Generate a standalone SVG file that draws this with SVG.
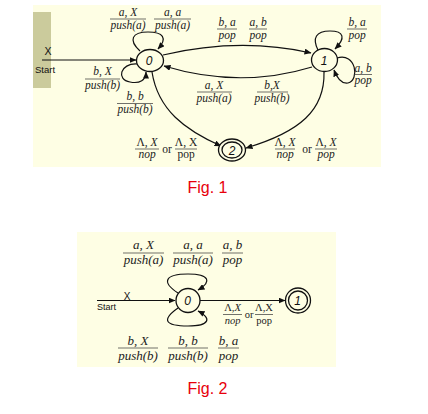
<svg xmlns="http://www.w3.org/2000/svg" width="428" height="414" viewBox="0 0 428 414">
<style>
.bg{fill:#FEFEE4}
.bar{fill:#CBCB9C}
.node{fill:#FEFEE4;stroke:#111;stroke-width:1.3}
.edge{fill:none;stroke:#111;stroke-width:1.2}
.fl{stroke:#333;stroke-width:0.7}
.lb{font-family:"Liberation Serif",serif;font-style:italic;font-size:11.5px;fill:#222;text-anchor:middle}
.lb2{font-family:"Liberation Serif",serif;font-style:italic;font-size:13px;fill:#222;text-anchor:middle}
.lb3{font-family:"Liberation Serif",serif;font-style:italic;font-size:10.5px;fill:#222;text-anchor:middle}
.up{font-style:normal}
.nl{font-family:"Liberation Sans",Arial,sans-serif;font-style:italic;font-size:12px;fill:#111;text-anchor:middle}
.sans{font-family:"Liberation Sans",Arial,sans-serif;fill:#111}
.cap{font-family:"Liberation Sans",Arial,sans-serif;font-size:16px;fill:#E8000B;text-anchor:middle}
</style>
<defs>
<marker id="ah" markerWidth="7" markerHeight="6" refX="6.5" refY="3" orient="auto" markerUnits="userSpaceOnUse">
<path d="M0,0 L7,3 L0,6 Z" fill="#111"/>
</marker>
</defs>

<!-- Figure 1 background -->
<rect class="bg" x="33" y="5" width="348" height="162"/>
<rect class="bar" x="33" y="12" width="18" height="76"/>

<g id="connectors1">
<line class="edge" x1="42" y1="60" x2="136" y2="60" marker-end="url(#ah)"/>
<path class="edge" d="M163,55 Q240,37 311,53" marker-end="url(#ah)"/>
<path class="edge" d="M312,67 Q240,89 164,66" marker-end="url(#ah)"/>
<path class="edge" d="M152,72 C158,110 185,130 221,146" marker-end="url(#ah)"/>
<path class="edge" d="M324,72 C325,110 300,132 246,148" marker-end="url(#ah)"/>
<path class="edge" d="M140,51 C128,40 132,32 148,32 C163,32 168,38 158,49" marker-end="url(#ah)"/>
<path class="edge" d="M137,64 C120,63 116,80 130,82 C140,84 146,80 146,72" marker-end="url(#ah)"/>
<path class="edge" d="M318,50 C312,38 316,31 330,31 C344,31 346,38 335,49" marker-end="url(#ah)"/>
<path class="edge" d="M337,58 C356,52 360,80 348,83 C342,84 337,78 334,70" marker-end="url(#ah)"/>
</g>

<g id="start1">
<text class="sans" x="48" y="55" font-size="10.5" text-anchor="middle">X</text>
<text class="sans" x="35" y="73" font-size="9.5">Start</text>
</g>

<g id="n0">
<ellipse class="node" cx="150" cy="60.5" rx="13.5" ry="11"/>
<text class="nl" x="149" y="65">0</text>
</g>
<g id="n1">
<ellipse class="node" cx="324.5" cy="60" rx="13" ry="11.5"/>
<text class="nl" x="324" y="64.5">1</text>
</g>
<g id="n2">
<ellipse class="node" cx="232" cy="150" rx="13.5" ry="11"/>
<ellipse class="node" cx="232" cy="150" rx="10" ry="8"/>
<text class="nl" x="232" y="154.5" font-style="normal">2</text>
</g>

<g id="labels1">
<text class="lb" x="128" y="16">a, X</text><line class="fl" x1="110" y1="19" x2="146" y2="19"/><text class="lb" x="128" y="29">push(a)</text>
<text class="lb" x="172.5" y="16">a, a</text><line class="fl" x1="154" y1="19" x2="191" y2="19"/><text class="lb" x="172.5" y="29">push(a)</text>
<text class="lb" x="227" y="26">b, a</text><line class="fl" x1="217" y1="29" x2="237" y2="29"/><text class="lb" x="227" y="38.5">pop</text>
<text class="lb" x="258" y="26">a, b</text><line class="fl" x1="249" y1="29" x2="267" y2="29"/><text class="lb" x="258" y="38.5">pop</text>
<text class="lb" x="357" y="26">b, a</text><line class="fl" x1="347" y1="29" x2="367" y2="29"/><text class="lb" x="357" y="38.5">pop</text>
<text class="lb" x="363" y="71.5">a, b</text><line class="fl" x1="354" y1="74.5" x2="372" y2="74.5"/><text class="lb" x="363" y="84">pop</text>
<text class="lb" x="214" y="89">a, X</text><line class="fl" x1="197" y1="92" x2="232" y2="92"/><text class="lb" x="214" y="102">push(a)</text>
<text class="lb" x="272" y="89">b,X</text><line class="fl" x1="257" y1="92" x2="288" y2="92"/><text class="lb" x="272" y="102">push(b)</text>
<text class="lb" x="102.5" y="75">b, X</text><line class="fl" x1="85" y1="79" x2="120" y2="79"/><text class="lb" x="102.5" y="89">push(b)</text>
<text class="lb" x="135" y="100">b, b</text><line class="fl" x1="117" y1="103.5" x2="153" y2="103.5"/><text class="lb" x="135" y="113">push(b)</text>
<text class="lb" x="147" y="146"><tspan class="up">Λ</tspan>, X</text><line class="fl" x1="135" y1="149" x2="159" y2="149"/><text class="lb" x="147" y="158">nop</text>
<text class="lb up" x="167" y="153">or</text>
<text class="lb up" x="186" y="146">Λ, X</text><line class="fl" x1="175" y1="149" x2="197" y2="149"/><text class="lb up" x="186" y="158">pop</text>
<text class="lb" x="285" y="146"><tspan class="up">Λ</tspan>, X</text><line class="fl" x1="275" y1="149" x2="295" y2="149"/><text class="lb" x="285" y="158">nop</text>
<text class="lb up" x="307" y="153">or</text>
<text class="lb" x="326" y="146"><tspan class="up">Λ</tspan>, X</text><line class="fl" x1="315" y1="149" x2="337" y2="149"/><text class="lb" x="326" y="158">pop</text>
</g>

<text class="cap" x="207.5" y="193">Fig. 1</text>

<!-- Figure 2 -->
<rect class="bg" x="77" y="232" width="259" height="135"/>

<g id="connectors2">
<line class="edge" x1="97" y1="300.5" x2="175" y2="300.5" marker-end="url(#ah)"/>
<line class="edge" x1="200" y1="300.5" x2="285" y2="300.5" marker-end="url(#ah)"/>
<path class="edge" d="M178,293 C161,282 165,274 188,274 C210,274 212,282 198,290" marker-end="url(#ah)"/>
<path class="edge" d="M178,308 C161,320 165,326 188,326 C210,326 212,318 198,311" marker-end="url(#ah)"/>
</g>

<g id="start2">
<text class="sans" x="127" y="299.5" font-size="10" text-anchor="middle">X</text>
<text class="sans" x="97" y="310" font-size="9">Start</text>
</g>

<g id="m0">
<circle class="node" cx="188" cy="300.5" r="12"/>
<text class="nl" x="187.5" y="305">0</text>
</g>
<g id="m1">
<circle class="node" cx="298" cy="300.5" r="12.5"/>
<circle class="node" cx="298" cy="300.5" r="9.5"/>
<text class="nl" x="297.5" y="305">1</text>
</g>

<g id="labels2">
<text class="lb2" x="143.5" y="249">a, X</text><line class="fl" x1="123" y1="253" x2="164" y2="253"/><text class="lb2" x="143.5" y="264">push(a)</text>
<text class="lb2" x="193" y="249">a, a</text><line class="fl" x1="173" y1="253" x2="213" y2="253"/><text class="lb2" x="193" y="264">push(a)</text>
<text class="lb2" x="232.5" y="249">a, b</text><line class="fl" x1="222" y1="253" x2="243" y2="253"/><text class="lb2" x="232.5" y="264">pop</text>
<text class="lb2" x="138" y="345">b, X</text><line class="fl" x1="118" y1="348" x2="158" y2="348"/><text class="lb2" x="138" y="360">push(b)</text>
<text class="lb2" x="188" y="345">b, b</text><line class="fl" x1="168" y1="348" x2="208" y2="348"/><text class="lb2" x="188" y="360">push(b)</text>
<text class="lb2" x="228.5" y="345">b, a</text><line class="fl" x1="218" y1="348" x2="239" y2="348"/><text class="lb2" x="228.5" y="360">pop</text>
<text class="lb3" x="232.5" y="310.5"><tspan class="up">Λ</tspan>,X</text><line class="fl" x1="223" y1="314.5" x2="242" y2="314.5"/><text class="lb3" x="232.5" y="323.5">nop</text>
<text class="lb3 up" x="249" y="317.5">or</text>
<text class="lb3 up" x="264" y="310.5">Λ,X</text><line class="fl" x1="255" y1="314.5" x2="273" y2="314.5"/><text class="lb3 up" x="264" y="323.5">pop</text>
</g>

<text class="cap" x="207.5" y="394">Fig. 2</text>
</svg>
